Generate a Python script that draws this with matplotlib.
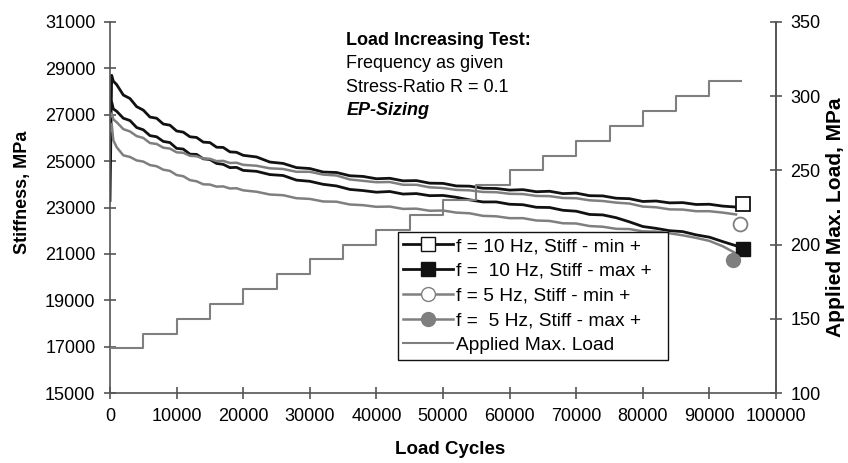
import matplotlib
matplotlib.use("Agg")
import matplotlib.pyplot as plt
from matplotlib.lines import Line2D

plt.rcParams['font.family'] = ['Liberation Sans', 'DejaVu Sans']

# load cycles where stiffness was sampled
cycles = [0, 250, 500, 1000, 2000, 3000, 4000, 5000, 6000, 7000, 8000, 9000,
          10000, 11000, 12000, 13000, 14000, 15000, 16000, 17000, 18000, 19000,
          20000, 22000, 24000, 26000, 28000, 30000, 32000, 34000, 36000, 38000,
          40000, 42000, 44000, 46000, 48000, 50000, 52000, 54000, 56000, 58000,
          60000, 62000, 64000, 66000, 68000, 70000, 72000, 74000, 76000, 78000,
          80000, 82000, 84000, 86000, 88000, 90000, 92000, 94000]

# stiffness, MPa
stiff_10_min = [23300, 28700, 28450, 28300, 27850, 27700, 27350, 27200, 26900, 26850,
                26600, 26550, 26300, 26250, 26050, 26020, 25820, 25800, 25600, 25590,
                25400, 25380, 25250, 25180, 24960, 24900, 24720, 24680, 24530, 24510,
                24370, 24340, 24240, 24260, 24150, 24160, 24050, 24040, 23930, 23920,
                23830, 23820, 23750, 23770, 23680, 23700, 23600, 23620, 23510, 23500,
                23400, 23380, 23260, 23280, 23200, 23210, 23130, 23140, 23060, 23020]
stiff_10_max = [27300, 27550, 27250, 27150, 26850, 26750, 26450, 26350, 26100, 26050,
                25850, 25800, 25550, 25520, 25300, 25290, 25100, 25070, 24900, 24860,
                24720, 24730, 24600, 24560, 24420, 24380, 24180, 24130, 24000, 23930,
                23780, 23730, 23660, 23690, 23580, 23600, 23510, 23520, 23440, 23330,
                23240, 23240, 23140, 23120, 23010, 23000, 22880, 22840, 22700, 22680,
                22560, 22380, 22180, 22100, 22000, 21960, 21820, 21720, 21530, 21350]
stiff_5_min = [26900, 27050, 26800, 26680, 26380, 26280, 26080, 26000, 25780, 25740,
               25580, 25540, 25380, 25360, 25230, 25210, 25110, 25100, 25000, 25010,
               24920, 24930, 24840, 24800, 24690, 24660, 24540, 24540, 24420, 24380,
               24210, 24150, 24090, 24100, 23980, 23980, 23870, 23840, 23760, 23740,
               23670, 23660, 23590, 23580, 23500, 23490, 23410, 23400, 23310, 23280,
               23210, 23170, 23040, 23010, 22920, 22910, 22840, 22840, 22780, 22700]
stiff_5_max = [26300, 26600, 25900, 25600, 25250, 25180, 25030, 24980, 24830, 24780,
               24630, 24580, 24400, 24350, 24180, 24130, 24000, 23990, 23900, 23910,
               23820, 23830, 23740, 23680, 23560, 23530, 23400, 23370, 23260, 23250,
               23130, 23100, 23030, 23040, 22940, 22950, 22860, 22870, 22780, 22750,
               22640, 22620, 22540, 22540, 22440, 22420, 22320, 22310, 22200, 22170,
               22080, 22070, 21970, 21960, 21890, 21800, 21690, 21560, 21330, 21020]

# end markers of each stiffness series
end_cycles = [95000, 95000, 94600, 93600]
end_stiff = [23150, 21230, 22300, 20750]

# applied max. load, MPa (step increase every 5000 cycles)
load_cycles = [0, 5000, 10000, 15000, 20000, 25000, 30000, 35000, 40000, 45000,
               50000, 55000, 60000, 65000, 70000, 75000, 80000, 85000, 90000, 94800]
load_levels = [130, 140, 150, 160, 170, 180, 190, 200, 210, 220,
               230, 240, 250, 260, 270, 280, 290, 300, 310, 310]

labels = ["f = 10 Hz, Stiff - min +", "f =  10 Hz, Stiff - max +",
          "f = 5 Hz, Stiff - min +", "f =  5 Hz, Stiff - max +",
          "Applied Max. Load"]

black = "#111111"
grey = "#7f7f7f"
axis_col = "#555555"

fig = plt.figure(figsize=(8.48, 4.63), dpi=100)
ax = fig.add_axes([110 / 848, 1 - 393 / 463, 666 / 848, 371 / 463])
ax2 = ax.twinx()

# stiffness curves
ax.plot(cycles, stiff_10_min, color=black, lw=2.0)
ax.plot(cycles, stiff_10_max, color=black, lw=2.0)
ax.plot(cycles, stiff_5_min, color=grey, lw=1.8)
ax.plot(cycles, stiff_5_max, color=grey, lw=1.8)

# end markers
ax.plot(end_cycles[0], end_stiff[0], 's', ms=10, mfc='white', mec=black, mew=1.3)
ax.plot(end_cycles[1], end_stiff[1], 's', ms=10, mfc=black, mec=black)
ax.plot(end_cycles[2], end_stiff[2], 'o', ms=10, mfc='white', mec=grey, mew=1.3)
ax.plot(end_cycles[3], end_stiff[3], 'o', ms=10, mfc=grey, mec=grey)

# load steps on the right axis
ax2.plot(load_cycles, load_levels, color=grey, lw=1.5, drawstyle='steps-post')

ax.set_xlim(0, 100000)
ax.set_ylim(15000, 31000)
ax2.set_ylim(100, 350)
ax.set_xticks(range(0, 100001, 10000))
ax.set_yticks(range(15000, 31001, 2000))
ax2.set_yticks(range(100, 351, 50))

for a in (ax, ax2):
    a.spines['top'].set_visible(False)
    for s in a.spines.values():
        s.set_color(axis_col)
        s.set_linewidth(1.2)
    a.tick_params(direction='inout', length=9, width=1.2, color=axis_col,
                  labelsize=13, pad=6)
ax2.spines['left'].set_visible(False)
ax2.spines['bottom'].set_visible(False)

ax.set_xlabel("Load Cycles", fontsize=13.5, fontweight='bold')
ax.set_ylabel("Stiffness, MPa", fontsize=13, fontweight='bold')
ax2.set_ylabel("Applied Max. Load, MPa", fontsize=15, fontweight='bold')
ax.xaxis.set_label_coords(0.51, -0.13)
ax.yaxis.set_label_coords(-0.118, 0.54)
ax2.yaxis.set_label_coords(1.075, 0.475)

# test description
ax.text(0.355, 0.95, "Load Increasing Test:", transform=ax.transAxes,
        fontsize=13, fontweight='bold', va='center')
ax.text(0.355, 0.887, "Frequency as given", transform=ax.transAxes,
        fontsize=13, va='center')
ax.text(0.355, 0.824, "Stress-Ratio R = 0.1", transform=ax.transAxes,
        fontsize=13, va='center')
ax.text(0.355, 0.761, "EP-Sizing", transform=ax.transAxes,
        fontsize=13, fontweight='bold', style='italic', va='center')

handles = [
    Line2D([], [], color=black, lw=2, marker='s', ms=10, mfc='white', mec=black),
    Line2D([], [], color=black, lw=2, marker='s', ms=10, mfc=black, mec=black),
    Line2D([], [], color=grey, lw=1.8, marker='o', ms=10, mfc='white', mec=grey),
    Line2D([], [], color=grey, lw=1.8, marker='o', ms=10, mfc=grey, mec=grey),
    Line2D([], [], color=grey, lw=1.5),
]
leg = ax2.legend(handles, labels, loc='upper left',
                 bbox_to_anchor=(0.432, 0.016, 0.406, 0.418), mode='expand',
                 fontsize=13.8, frameon=True, fancybox=False, framealpha=1,
                 edgecolor=black, handlelength=2.6, handletextpad=0.15,
                 labelspacing=0.38, borderpad=0.3, borderaxespad=0)
leg.get_frame().set_linewidth(1.0)

fig.savefig("out.png", dpi=100)
